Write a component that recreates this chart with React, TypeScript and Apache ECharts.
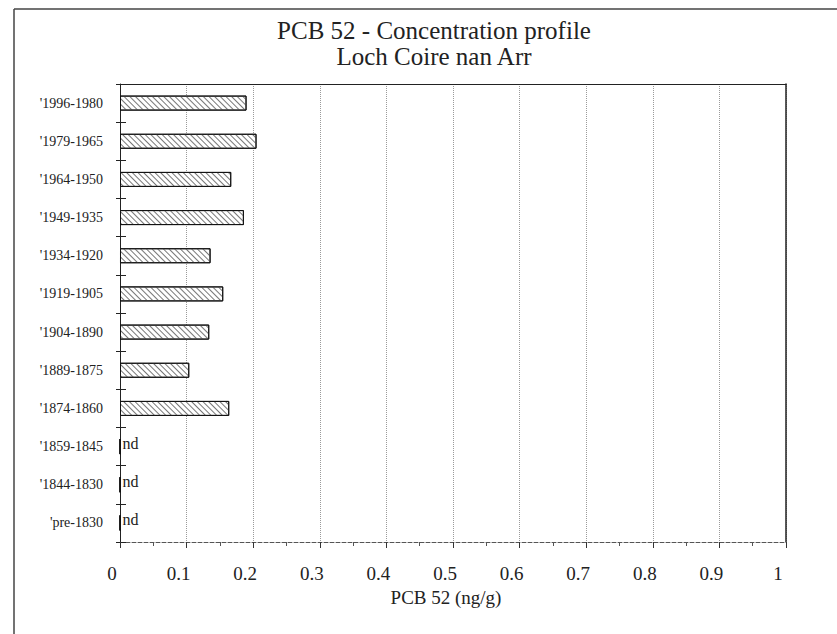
import React, { useEffect, useRef } from "react";
import * as echarts from "echarts";

const categories = [
  "1996-1980",
  "1979-1965",
  "1964-1950",
  "1949-1935",
  "1934-1920",
  "1919-1905",
  "1904-1890",
  "1889-1875",
  "1874-1860",
  "1859-1845",
  "1844-1830",
  "pre-1830",
];

// PCB 52 concentration (ng/g); null = not detected ("nd")
const concentrations: (number | null)[] = [
  0.19, 0.205, 0.167, 0.186, 0.136, 0.155, 0.134, 0.104, 0.164, null, null, null,
];

const xTicks = { min: 0, max: 1, interval: 0.1 };

const titleLines = ["PCB 52 - Concentration profile", "Loch Coire nan Arr"];
const xAxisName = "PCB 52 (ng/g)";

const FONT = "'Liberation Serif', 'Times New Roman', serif";

export default function App() {
  const ref = useRef<HTMLDivElement>(null);

  useEffect(() => {
    if (!ref.current) return;
    const chart = echarts.init(ref.current, null, { renderer: "svg" });

    const barData = concentrations.map((v) =>
      v === null
        ? {
            value: 0,
            label: {
              show: true,
              position: "right",
              distance: 2,
              formatter: "nd",
              fontFamily: FONT,
              fontSize: 16,
              color: "#222",
              offset: [0, -3],
            },
          }
        : { value: v }
    );

    chart.setOption({
      animation: false,
      backgroundColor: "#fff",
      title: {
        text: titleLines.join("\n"),
        left: 429,
        top: 12,
        textAlign: "center",
        textStyle: {
          fontFamily: FONT,
          fontSize: 25,
          fontWeight: "normal",
          color: "#222",
          lineHeight: 26,
        },
      },
      grid: { left: 120, top: 84, right: 51, bottom: 92, containLabel: false },
      xAxis: [
        {
          type: "value",
          position: "bottom",
          min: xTicks.min,
          max: xTicks.max,
          interval: xTicks.interval,
          name: xAxisName,
          nameLocation: "middle",
          nameGap: 46,
          nameTextStyle: { fontFamily: FONT, fontSize: 19, color: "#222", padding: [0, 14, 0, 0] },
          axisLine: { show: true, lineStyle: { color: "#555", type: "dashed", width: 1 } },
          axisTick: { show: true, length: 6, lineStyle: { color: "#333" } },
          minorTick: { show: true, splitNumber: 2, length: 4, lineStyle: { color: "#555" } },
          axisLabel: {
            fontFamily: FONT,
            fontSize: 19,
            color: "#222",
            margin: 22,
            padding: [0, 16, 0, 0],
          },
          splitLine: { show: true, lineStyle: { color: "#9a9a9a", type: "dotted", width: 1 } },
        },
        {
          type: "value",
          position: "top",
          min: xTicks.min,
          max: xTicks.max,
          axisLine: { show: true, lineStyle: { color: "#222", width: 1 } },
          axisTick: { show: false },
          axisLabel: { show: false },
          splitLine: { show: false },
        },
      ],
      yAxis: [
        {
          type: "category",
          data: categories,
          inverse: true,
          position: "left",
          axisLine: { show: true, lineStyle: { color: "#222", width: 1 } },
          axisTick: { show: true, length: 4, lineStyle: { color: "#222" } },
          axisLabel: {
            fontFamily: FONT,
            fontSize: 14,
            color: "#222",
            margin: 17,
            formatter: (v: string) => "'" + v,
          },
        },
        {
          type: "category",
          data: categories,
          inverse: true,
          position: "left",
          axisLine: { show: false },
          axisTick: { show: true, inside: true, length: 6, lineStyle: { color: "#222" } },
          axisLabel: { show: false },
        },
        {
          type: "category",
          data: categories,
          inverse: true,
          position: "right",
          axisLine: { show: true, lineStyle: { color: "#222", width: 1.5 } },
          axisTick: { show: false },
          axisLabel: { show: false },
        },
      ],
      series: [
        {
          type: "bar",
          xAxisIndex: 0,
          yAxisIndex: 0,
          data: barData,
          barWidth: 15,
          itemStyle: {
            color: "#fff",
            borderColor: "#111",
            borderWidth: 1,
            decal: {
              symbol: "rect",
              symbolSize: 1,
              symbolKeepAspect: false,
              color: "#777",
              backgroundColor: "#fff",
              dashArrayX: [1, 0],
              dashArrayY: [1, 3],
              rotation: Math.PI / 4,
            },
          },
        },
      ],
      graphic: [
        {
          type: "line",
          shape: { x1: 14, y1: 9, x2: 837, y2: 9 },
          style: { stroke: "#444", lineWidth: 1.5 },
        },
        {
          type: "line",
          shape: { x1: 14, y1: 9, x2: 14, y2: 634 },
          style: { stroke: "#444", lineWidth: 1.5 },
        },
      ],
    });

    return () => chart.dispose();
  }, []);

  return (
    <div
      ref={ref}
      style={{ position: "fixed", left: 0, top: 0, width: 837, height: 634, background: "#fff" }}
    />
  );
}
